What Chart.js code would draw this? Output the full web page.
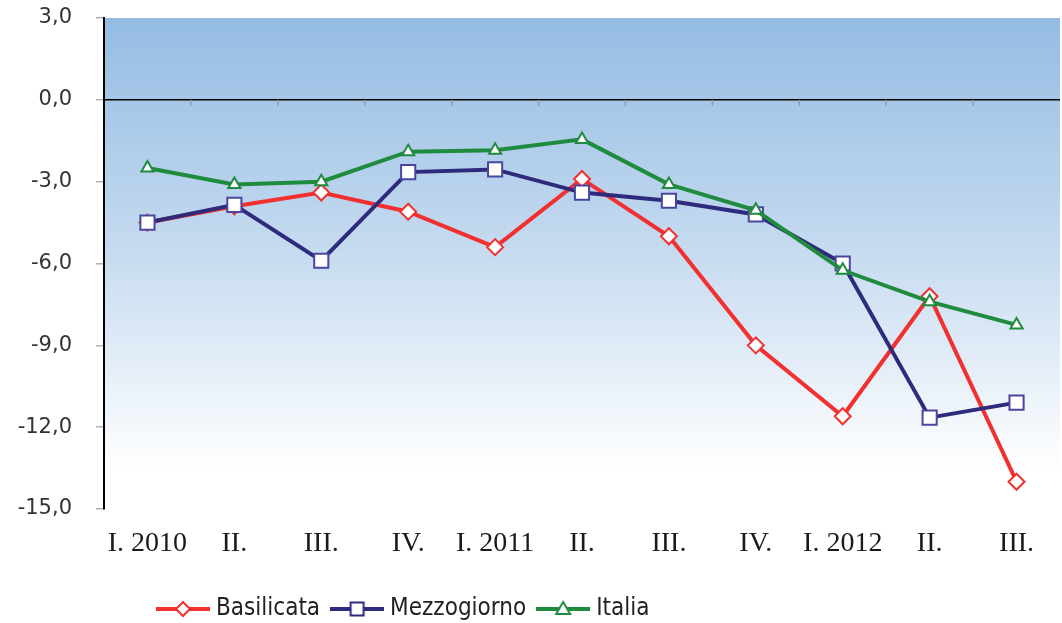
<!DOCTYPE html>
<html>
<head>
<meta charset="utf-8">
<script src="https://cdn.jsdelivr.net/npm/chart.js"></script>
<style>
  html, body { margin: 0; padding: 0; background: #fff; overflow: hidden; }
  #wrap { width: 1062px; height: 623px; overflow: hidden; }
</style>
</head>
<body>
<div id="wrap"><canvas id="chart" width="1072" height="623"></canvas></div>
<script>
// quarters
const labels = ['I. 2010', 'II.', 'III.', 'IV.', 'I. 2011', 'II.', 'III.', 'IV.', 'I. 2012', 'II.', 'III.'];

// series values (%)
const basilicata = [-4.5, -3.9, -3.4, -4.1, -5.4, -2.9, -5.0, -9.0, -11.6, -7.2, -14.0];
const mezzogiorno = [-4.5, -3.85, -5.9, -2.65, -2.55, -3.4, -3.7, -4.2, -6.0, -11.65, -11.1];
const italia = [-2.5, -3.1, -3.0, -1.9, -1.85, -1.45, -3.1, -4.05, -6.25, -7.4, -8.25];

const yTicks = [3, 0, -3, -6, -9, -12, -15];

const RED = '#f23030', NAVY = '#2e2b7c', GREEN = '#1f8b3e';

// legend symbol: line with marker
function legendIcon(color, style) {
  const c = document.createElement('canvas');
  c.width = 54; c.height = 20;
  const g = c.getContext('2d');
  g.strokeStyle = color; g.lineWidth = 4;
  g.beginPath(); g.moveTo(0, 10); g.lineTo(54, 10); g.stroke();
  g.fillStyle = '#fff'; g.lineWidth = 2;
  g.beginPath();
  if (style === 'diamond') { g.moveTo(27, 3); g.lineTo(34, 10); g.lineTo(27, 17); g.lineTo(20, 10); g.closePath(); }
  if (style === 'square') { g.rect(20.5, 3.5, 13, 13); }
  if (style === 'triangle') { g.moveTo(27, 3); g.lineTo(34, 15); g.lineTo(20, 15); g.closePath(); }
  g.fill(); g.stroke();
  return c;
}

const bgPlugin = {
  id: 'bg',
  beforeDraw(chart) {
    const { ctx, chartArea: a } = chart;
    const grad = ctx.createLinearGradient(0, a.top, 0, a.bottom);
    grad.addColorStop(0, '#94bce3');
    grad.addColorStop(0.45, '#c3d9ef');
    grad.addColorStop(0.92, '#ffffff');
    ctx.save();
    ctx.fillStyle = grad;
    ctx.fillRect(a.left, a.top, a.right - a.left, a.bottom - a.top);
    ctx.restore();
  },
  // small category separators hanging under the zero line
  beforeDatasetsDraw(chart) {
    const { ctx, scales: { x, y } } = chart;
    const y0 = y.getPixelForValue(0);
    ctx.save();
    ctx.strokeStyle = '#9a9a9a';
    ctx.lineWidth = 1.5;
    for (let i = 0; i < labels.length - 1; i++) {
      const px = (x.getPixelForTick(i) + x.getPixelForTick(i + 1)) / 2;
      ctx.beginPath(); ctx.moveTo(px, y0); ctx.lineTo(px, y0 + 6); ctx.stroke();
    }
    ctx.restore();
  }
};

// legend sits left of centre and a bit lower in the original
const legendShift = {
  id: 'legendShift',
  afterLayout(chart) {
    const l = chart.legend;
    l.left += 146; l.right += 146;
    l.top += 8; l.bottom += 8;
  }
};

const icons = [legendIcon(RED, 'diamond'), legendIcon(NAVY, 'square'), legendIcon(GREEN, 'triangle')];

new Chart(document.getElementById('chart'), {
  type: 'line',
  data: {
    labels: labels,
    datasets: [
      { label: 'Basilicata', data: basilicata, borderColor: RED, borderWidth: 4, pointStyle: 'rectRot', pointRadius: 8, pointBorderWidth: 2, pointBackgroundColor: '#fff', pointBorderColor: RED, order: 3 },
      { label: 'Mezzogiorno', data: mezzogiorno, borderColor: NAVY, borderWidth: 4, pointStyle: 'rect', pointRadius: 10, pointBorderWidth: 2, pointBackgroundColor: '#fff', pointBorderColor: '#4a46a0', order: 2 },
      { label: 'Italia', data: italia, borderColor: GREEN, borderWidth: 4, pointStyle: 'triangle', pointRadius: 7, pointBorderWidth: 2, pointBackgroundColor: '#fff', pointBorderColor: GREEN, order: 1 }
    ]
  },
  options: {
    responsive: false,
    animation: false,
    layout: { padding: { top: 0, left: 0, right: 0, bottom: 0 } },
    plugins: {
      tooltip: { enabled: false },
      legend: {
        position: 'bottom',
        align: 'start',
        labels: {
          usePointStyle: true,
          pointStyleWidth: 42,
          padding: 16,
          color: '#222',
          font: { family: 'DejaVu Sans Condensed', size: 24 },
          generateLabels: chart => chart.data.datasets.map((d, i) => ({
            text: d.label, pointStyle: icons[i], datasetIndex: i, hidden: false, lineWidth: 0, fontColor: '#222'
          }))
        }
      }
    },
    scales: {
      x: {
        offset: true,
        grid: { display: false, drawTicks: false },
        border: { display: false },
        ticks: { color: '#1a1a1a', padding: 18, maxRotation: 0, autoSkip: false, font: { family: 'Liberation Serif', size: 28 } },
        afterFit: s => { s.height = 64; s.paddingTop = 0; s.paddingBottom = 0; }
      },
      y: {
        min: -15, max: 3,
        afterBuildTicks: s => { s.ticks = yTicks.map(v => ({ value: v })); },
        afterFit: s => { s.width = 104; s.paddingTop = 18; s.paddingBottom = 0; },
        border: { display: true, color: '#000', width: 2 },
        grid: {
          color: c => (c.tick && c.tick.value === 0 ? '#000' : 'rgba(0,0,0,0)'),
          lineWidth: 1.5,
          tickColor: '#b0b0b0',
          tickLength: 8
        },
        ticks: {
          padding: 24,
          color: '#333',
          font: { family: 'DejaVu Sans', size: 21 },
          callback: v => v.toFixed(1).replace('.', ',')
        }
      }
    }
  },
  plugins: [bgPlugin, legendShift]
});
</script>
</body>
</html>
